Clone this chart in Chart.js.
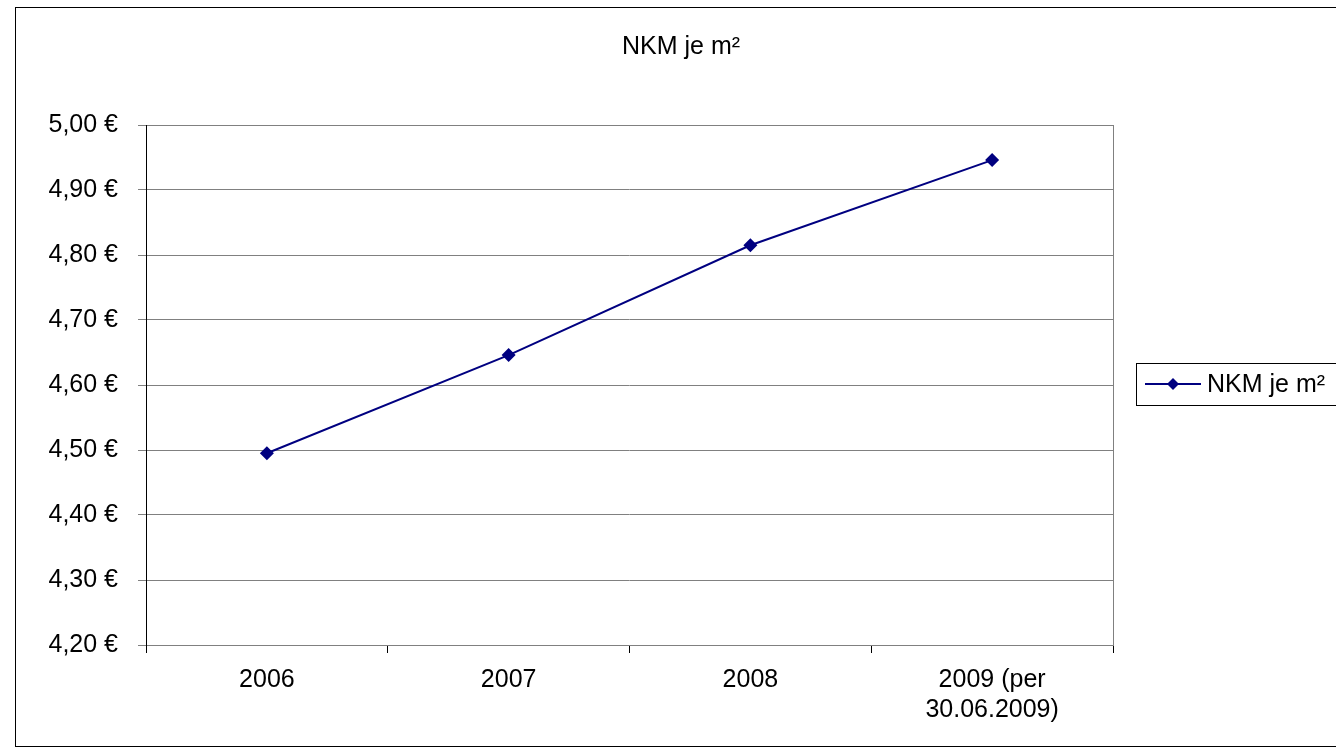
<!DOCTYPE html>
<html>
<head>
<meta charset="utf-8">
<script src="https://cdn.jsdelivr.net/npm/chart.js@4"></script>
<style>
  html, body { margin: 0; padding: 0; background: #fff; }
  #wrap { width: 1336px; height: 755px; }
</style>
</head>
<body>
<div id="wrap"><canvas id="nkm"></canvas></div>
<script>
const categories = ["2006", "2007", "2008", ["2009 (per", "30.06.2009)"]];
const nkmPerSqm = [4.495, 4.646, 4.815, 4.946];
const yMin = 4.2, yMax = 5.0, yStep = 0.1;

const FONT = "'Liberation Sans', Arial, sans-serif";
const FS = 25;
const NAVY = "#000080";

const fmtEuro = v => v.toFixed(2).replace(".", ",") + " €";

// frame around whole chart + grey plot border
const framePlugin = {
  id: "frame",
  beforeDraw(chart) {
    const { ctx } = chart;
    ctx.save();
    ctx.fillStyle = "#fff";
    ctx.fillRect(0, 0, chart.width, chart.height);
    ctx.strokeStyle = "#000";
    ctx.lineWidth = 1;
    ctx.strokeRect(15.5, 7.5, 1400, 739);
    ctx.restore();
  },
  beforeDatasetsDraw(chart) {
    const { ctx, chartArea: a } = chart;
    ctx.save();
    ctx.strokeStyle = "#808080";
    ctx.lineWidth = 1;
    ctx.strokeRect(Math.round(a.left) + 0.5, Math.round(a.top) + 0.5,
      Math.round(a.right - a.left), Math.round(a.bottom - a.top));
    ctx.strokeStyle = "#000";
    ctx.beginPath();
    ctx.moveTo(Math.round(a.left) + 0.5, Math.round(a.top));
    ctx.lineTo(Math.round(a.left) + 0.5, Math.round(a.bottom) + 8);
    ctx.stroke();
    ctx.restore();
  }
};

// boxed legend on the right, Excel style
const boxLegend = {
  id: "boxLegend",
  afterDraw(chart) {
    const { ctx } = chart;
    const ds = chart.data.datasets[0];
    const top = 363, bottom = 405, left = 1136;
    const cy = (top + bottom) / 2;
    ctx.save();
    ctx.strokeStyle = "#000";
    ctx.lineWidth = 1;
    ctx.strokeRect(left + 0.5, top + 0.5, 400, bottom - top);
    ctx.strokeStyle = ds.borderColor;
    ctx.lineWidth = 2;
    ctx.beginPath();
    ctx.moveTo(1145, cy);
    ctx.lineTo(1201, cy);
    ctx.stroke();
    ctx.fillStyle = ds.borderColor;
    ctx.beginPath();
    ctx.moveTo(1173, cy - 6);
    ctx.lineTo(1179, cy);
    ctx.lineTo(1173, cy + 6);
    ctx.lineTo(1167, cy);
    ctx.closePath();
    ctx.fill();
    ctx.fillStyle = "#000";
    ctx.font = FS + "px " + FONT;
    ctx.textBaseline = "middle";
    ctx.fillText(ds.label, 1207, cy + 1);
    ctx.restore();
  }
};

new Chart(document.getElementById("nkm"), {
  type: "line",
  data: {
    labels: categories,
    datasets: [{
      label: "NKM je m²",
      data: nkmPerSqm,
      borderColor: NAVY,
      backgroundColor: NAVY,
      borderWidth: 2,
      tension: 0,
      pointStyle: "rectRot",
      pointRadius: 7,
      pointHoverRadius: 7,
      pointBorderWidth: 0
    }]
  },
  options: {
    responsive: true,
    maintainAspectRatio: false,
    animation: false,
    events: [],
    layout: { padding: { left: 26, right: 0, top: 0, bottom: 0 } },
    plugins: {
      legend: { display: false },
      tooltip: { enabled: false },
      title: {
        display: true,
        text: "NKM je m²",
        color: "#000",
        font: { family: FONT, size: FS, weight: "normal", lineHeight: 1.2 },
        padding: { top: 32, bottom: 63 }
      }
    },
    scales: {
      x: {
        offset: true,
        grid: { display: true, drawOnChartArea: false, drawTicks: true, tickLength: 8, offset: true, color: "#000" },
        border: { display: false },
        ticks: {
          color: "#000",
          font: { family: FONT, size: FS, lineHeight: 1.2 },
          padding: 12,
          maxRotation: 0,
          autoSkip: false
        },
        afterFit(s) { s.height = 110; }
      },
      y: {
        min: yMin,
        max: yMax,
        grid: { color: "#808080", lineWidth: 1, tickLength: 8, drawTicks: true },
        border: { display: false },
        ticks: {
          stepSize: yStep,
          color: "#000",
          padding: 20,
          font: { family: FONT, size: FS },
          callback: v => fmtEuro(v)
        },
        afterFit(s) { s.width = 120; }
      },
      spacer: {
        type: "linear",
        position: "right",
        min: 0, max: 1,
        grid: { display: false },
        border: { display: false },
        ticks: { display: false },
        afterFit(s) { s.width = 223; }
      }
    }
  },
  plugins: [framePlugin, boxLegend]
});
</script>
</body>
</html>
